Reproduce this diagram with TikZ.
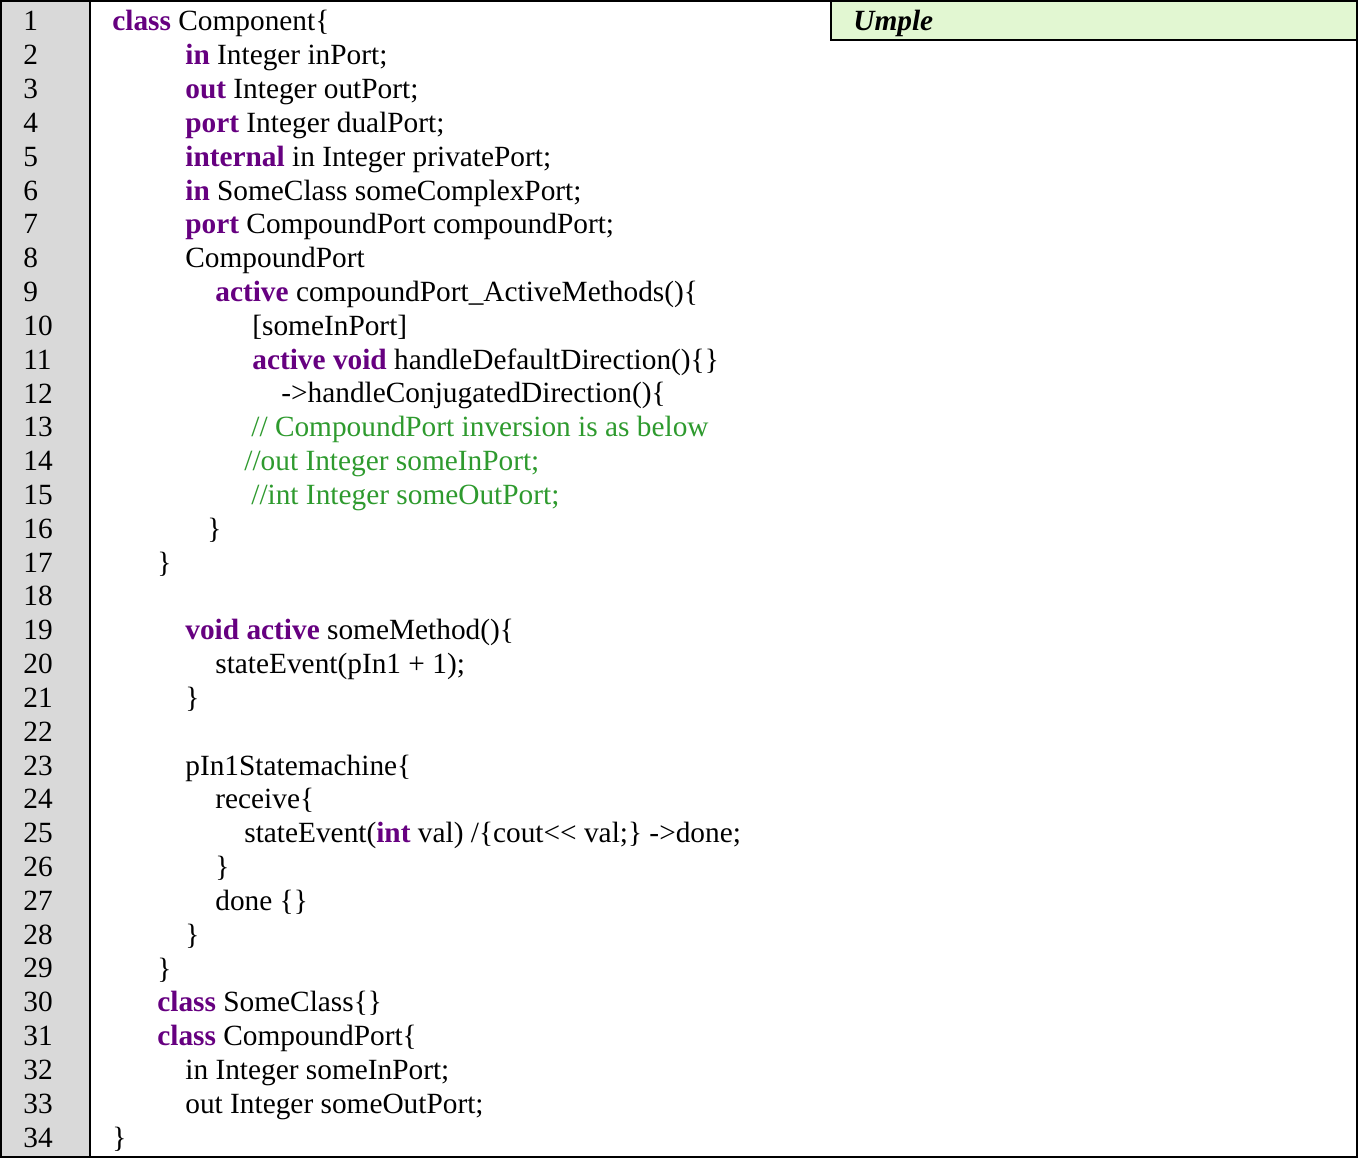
\documentclass[tikz,border=0pt]{standalone}
\usepackage{fontspec}
\setmainfont{Liberation Serif}
\definecolor{kwpurple}{HTML}{660080}
\definecolor{cmgreen}{HTML}{2E9A2E}
\definecolor{gutter}{HTML}{D9D9D9}
\definecolor{tagfill}{HTML}{E2F7D2}
\newcommand{\kw}[1]{\textcolor{kwpurple}{\textbf{#1}}}
\newcommand{\cm}[1]{\textcolor{cmgreen}{#1}}
\tikzset{
  codeline/.style={anchor=base west, inner sep=0pt, font=\fontsize{16.7}{19}\selectfont},
  lineno/.style={anchor=base west, inner sep=0pt, font=\fontsize{16.7}{19}\selectfont}
}
\begin{document}
\begin{tikzpicture}[x=0.02cm,y=-0.02cm]
  \useasboundingbox (0,0) rectangle (1358,1158);
  % frame and gutter
  \fill[gutter] (1,1) rectangle (90,1157);
  \draw[line width=0.04cm] (1,1) rectangle (1357,1157);
  \draw[line width=0.03cm] (90,1) -- (90,1157);
  % language tag
  \filldraw[fill=tagfill, draw=black, line width=0.03cm] (831,1) rectangle (1357,40);
  \node[codeline] (tag) at (853,31) {\textbf{\textit{Umple}}};
  % line numbers
  \foreach \n in {1,...,34}
    \node[lineno] (n\n) at (23,{31+(\n-1)*33.82}) {\n};
  % code lines
  \node[codeline] (l1) at (112,31) {\kw{class} Component\{};
  \node[codeline] (l2) at (185,64.8) {\kw{in} Integer inPort;};
  \node[codeline] (l3) at (185,98.6) {\kw{out} Integer outPort;};
  \node[codeline] (l4) at (185,132.5) {\kw{port} Integer dualPort;};
  \node[codeline] (l5) at (185,166.3) {\kw{internal} in Integer privatePort;};
  \node[codeline] (l6) at (185,200.1) {\kw{in} SomeClass someComplexPort;};
  \node[codeline] (l7) at (185,233.9) {\kw{port} CompoundPort compoundPort;};
  \node[codeline] (l8) at (185,267.7) {CompoundPort};
  \node[codeline] (l9) at (215,301.6) {\kw{active} compoundPort\_ActiveMethods()\{};
  \node[codeline] (l10) at (252,335.4) {[someInPort]};
  \node[codeline] (l11) at (252,369.2) {\kw{active} \kw{void} handleDefaultDirection()\{\}};
  \node[codeline] (l12) at (281,403.0) {->handleConjugatedDirection()\{};
  \node[codeline] (l13) at (251,436.8) {\cm{// CompoundPort inversion is as below}};
  \node[codeline] (l14) at (244,470.7) {\cm{//out Integer someInPort;}};
  \node[codeline] (l15) at (251,504.5) {\cm{//int Integer someOutPort;}};
  \node[codeline] (l16) at (207,538.3) {\}};
  \node[codeline] (l17) at (157,572.1) {\}};
  \node[codeline] (l19) at (185,639.8) {\kw{void} \kw{active} someMethod()\{};
  \node[codeline] (l20) at (215,673.6) {stateEvent(pIn1 + 1);};
  \node[codeline] (l21) at (185,707.4) {\}};
  \node[codeline] (l23) at (185,775.0) {pIn1Statemachine\{};
  \node[codeline] (l24) at (215,808.9) {receive\{};
  \node[codeline] (l25) at (244,842.7) {stateEvent(\kw{int} val) /\{cout<{}< val;\} ->done;};
  \node[codeline] (l26) at (215,876.5) {\}};
  \node[codeline] (l27) at (215,910.3) {done \{\}};
  \node[codeline] (l28) at (185,944.1) {\}};
  \node[codeline] (l29) at (157,978.0) {\}};
  \node[codeline] (l30) at (157,1011.8) {\kw{class} SomeClass\{\}};
  \node[codeline] (l31) at (157,1045.6) {\kw{class} CompoundPort\{};
  \node[codeline] (l32) at (185,1079.4) {in Integer someInPort;};
  \node[codeline] (l33) at (185,1113.2) {out Integer someOutPort;};
  \node[codeline] (l34) at (112,1147.0) {\}};
\end{tikzpicture}
\end{document}
